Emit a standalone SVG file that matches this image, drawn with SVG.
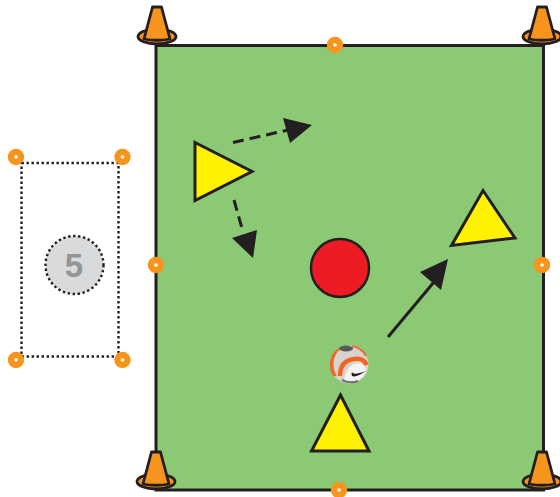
<svg xmlns="http://www.w3.org/2000/svg" width="560" height="497" viewBox="0 0 560 497">
<style>
.cone path,.cone ellipse{fill:#f7941d;stroke:#231f20;stroke-width:2.800;stroke-linejoin:round}
.dot circle:first-child{fill:#f7941d}
.dot circle:last-child{fill:#fff}
.tri{fill:#fff200;stroke:#231f20;stroke-width:3}
.dash{fill:none;stroke:#231f20;stroke-width:3;stroke-dasharray:11 6}
.head{fill:#231f20}
.dotted{fill:none;stroke:#231f20;stroke-width:2.400;stroke-dasharray:2.400 2.600}
</style>
<defs>
<g id="d" class="dot"><circle r="8.200"/><circle r="1.800"/></g>
<g id="c" class="cone"><ellipse cx="0" cy="30.500" rx="19" ry="7.500"/><path d="M-4.500 1H4.500L13 33Q0 35.500 -13 33Z"/></g>
</defs>
<rect id="pitch" x="156" y="45.500" width="387.500" height="444.500" fill="#8cc975" stroke="#231f20" stroke-width="3"/>
<g id="cone-tl"><use href="#c" x="157" y="6"/></g>
<g id="cone-tr"><use href="#c" x="542" y="6"/></g>
<g id="cone-bl"><use href="#c" x="156" y="451"/></g>
<g id="cone-br"><use href="#c" x="542" y="451"/></g>
<g id="pitch-markers">
<use href="#d" x="335" y="45"/><use href="#d" x="156" y="265"/><use href="#d" x="542" y="265"/><use href="#d" x="339" y="490"/>
</g>
<g id="zone">
<rect class="dotted" x="21.500" y="163" width="97" height="193.500"/>
<use href="#d" x="16" y="157"/><use href="#d" x="122.500" y="157"/><use href="#d" x="16" y="360"/><use href="#d" x="122.500" y="360"/>
</g>
<g id="badge">
<circle class="dotted" cx="74.500" cy="265" r="29" style="fill:#d9dadc"/>
<text x="74" y="277" text-anchor="middle" font-family="'Liberation Sans',sans-serif" font-weight="700" font-size="33" fill="#939598">5</text>
</g>
<g id="player-left"><path class="tri" d="M195 142.500L252 171.500L195 200.500Z"/></g>
<g id="player-right"><path class="tri" d="M483 190.500L515 238L451.500 245.500Z"/></g>
<g id="player-bottom"><path class="tri" d="M340.500 395L369 451H311.500Z"/></g>
<g id="defender"><circle cx="340" cy="268" r="29" fill="#ed1c24" stroke="#231f20" stroke-width="2.500"/></g>
<g id="ball">
<circle cx="349.500" cy="364.500" r="19" fill="#d9d3cf"/>
<path d="M335 375C330 364 333 354 339 349C334 352 331 358 331 365C331 371 333 375 335 375Z" fill="#f26522" stroke="#f26522" stroke-width="2"/>
<path d="M352 346Q362 348 366 356" fill="none" stroke="#e8703a" stroke-width="2"/>
<path d="M340 376C340 365 346 360 354 359C360 358 365 360 366.500 365" fill="none" stroke="#f26522" stroke-width="4.500"/>
<path d="M344 381C345 371 350 364 358 363C363 363 366 367 366 371C364 378 356 384 344 381Z" fill="#f4f4f4"/>
<path d="M342 380Q350 384 358 381" fill="none" stroke="#6d6e71" stroke-width="2"/>
<ellipse cx="346" cy="348.500" rx="7" ry="3" fill="#58595b"/>
<path d="M352 372Q353 376 366 371Q356 378 352 376Q351 374 352 372Z" fill="#231f20"/>
</g>
<g id="connectors">
<line class="dash" x1="233" y1="142.500" x2="288" y2="130"/>
<path class="head" d="M283 118L312 125L290 143Z"/>
<line class="dash" x1="234" y1="200" x2="243" y2="232"/>
<path class="head" d="M232 238L257 230L253 258Z"/>
<line x1="388" y1="337" x2="434" y2="282" stroke="#231f20" stroke-width="3"/>
<path class="head" d="M420 272L448 259L441 290Z"/>
</g>
</svg>
